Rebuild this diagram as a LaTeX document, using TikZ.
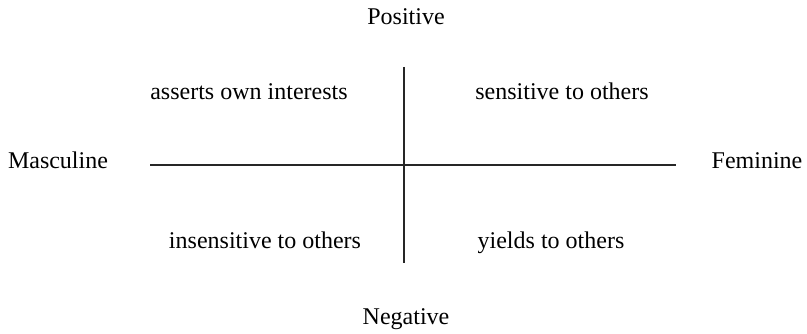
\documentclass[tikz,border=0pt]{standalone}
\usepackage{fontspec}
\setmainfont{Liberation Serif}
\usetikzlibrary{positioning}
\tikzset{
    axislbl/.style={font=\fontsize{10}{12}\selectfont, inner sep=0pt, anchor=base},
    quadlbl/.style={font=\fontsize{10}{12}\selectfont, inner sep=0pt, anchor=base},
    axisline/.style={line width=0.85pt, color=black!85}
}

\begin{document}
\begin{tikzpicture}[x=0.4166pt, y=-0.4166pt]
        \useasboundingbox (0,0) rectangle (807,334);
        % axes
        \coordinate (top)    at (404, 67);
        \coordinate (bottom) at (404,263);
        \coordinate (left)   at (150,165);
        \coordinate (right)  at (676,165);
        \draw[axisline] (top) -- (bottom);
        \draw[axisline] (left) -- (right);
        % pole labels
        \node[axislbl] (pos)  at (406, 25) {Positive};
        \node[axislbl] (neg)  at (406,325) {Negative};
        \node[axislbl] (masc) at ( 58,169) {Masculine};
        \node[axislbl] (fem)  at (757,169) {Feminine};
        % quadrants
        \node[quadlbl] (ao) at (249,100) {asserts own interests};
        \node[quadlbl] (so) at (562,100) {sensitive to others};
        \node[quadlbl] (io) at (265,249) {insensitive to others};
        \node[quadlbl] (yo) at (551,249) {yields to others};
\end{tikzpicture}
\end{document}
